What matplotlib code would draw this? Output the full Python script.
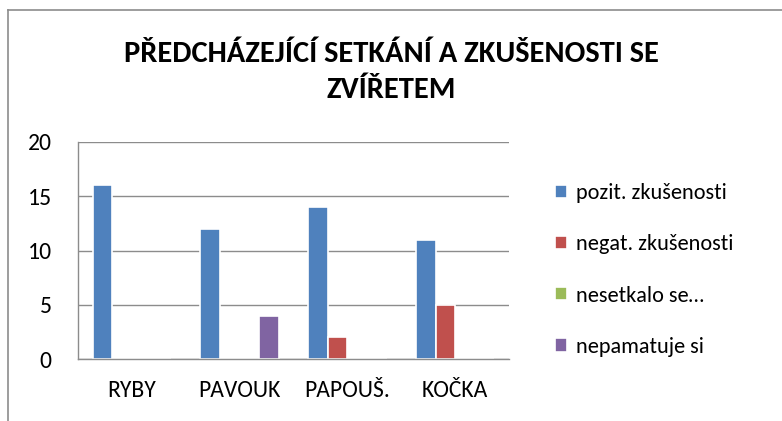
import numpy as np
import matplotlib.pyplot as plt
from matplotlib.lines import Line2D

plt.rcParams['font.family'] = ['Carlito', 'Lato', 'DejaVu Sans']

categories = ["RYBY", "PAVOUK", "PAPOUŠ.", "KOČKA"]
series = ["pozit. zkušenosti", "negat. zkušenosti", "nesetkalo se…", "nepamatuje si"]
pozit = [16, 12, 14, 11]
negat = [0, 0, 2, 5]
nesetkalo = [0, 0, 0, 0]
nepamatuje = [0, 4, 0, 0]
values = [pozit, negat, nesetkalo, nepamatuje]
colors = ["#4F81BD", "#C0504D", "#9BBB59", "#8064A2"]
title = "PŘEDCHÁZEJÍCÍ SETKÁNÍ A ZKUŠENOSTI SE\nZVÍŘETEM"

fig = plt.figure(figsize=(7.82, 4.21), dpi=100)
ax = fig.add_axes([78 / 782, 1 - 359 / 421, (509 - 78) / 782, (359 - 142) / 421])

# excel style: gap width 150% -> bar width = 1 / 5.5
w = 1 / 5.5
x = np.arange(len(categories))
for i, (vals, c, lab) in enumerate(zip(values, colors, series)):
    ax.bar(x - 2 * w + (i + 0.5) * w, vals, width=w, color=c, edgecolor="white",
           linewidth=1.2, label=lab)

ax.set_xlim(-0.5, len(categories) - 0.5)
ax.set_ylim(0, 20)
ax.set_yticks([0, 5, 10, 15, 20])
ax.set_xticks(x)
ax.set_xticklabels(categories)
ax.yaxis.grid(True, color="#8c8c8c", linewidth=1)
ax.set_axisbelow(True)
for s in ["top", "right"]:
    ax.spines[s].set_visible(False)
for s in ["left", "bottom"]:
    ax.spines[s].set_color("#8c8c8c")
    ax.spines[s].set_linewidth(1)
    ax.spines[s].set_zorder(5)
ax.tick_params(axis="both", length=0, labelsize=17, colors="black")
ax.tick_params(axis="y", pad=19)
ax.tick_params(axis="x", pad=15)

ax.legend(loc="center left", bbox_to_anchor=(1.06, 0.41), frameon=False, fontsize=16,
          handlelength=0.55, handleheight=0.55, handletextpad=0.4, labelspacing=1.4)

fig.text(0.5, 1 - 72 / 421, title, ha="center", va="center", fontsize=22,
         fontweight="bold", linespacing=1.45)

# chart frame (only left and top visible)
fig.add_artist(Line2D([8 / 782, 8 / 782], [0, 1 - 10 / 421], color="#8c8c8c", linewidth=1.2))
fig.add_artist(Line2D([8 / 782, 1], [1 - 10 / 421, 1 - 10 / 421], color="#8c8c8c", linewidth=1.2))

fig.savefig("out.png", dpi=100)
